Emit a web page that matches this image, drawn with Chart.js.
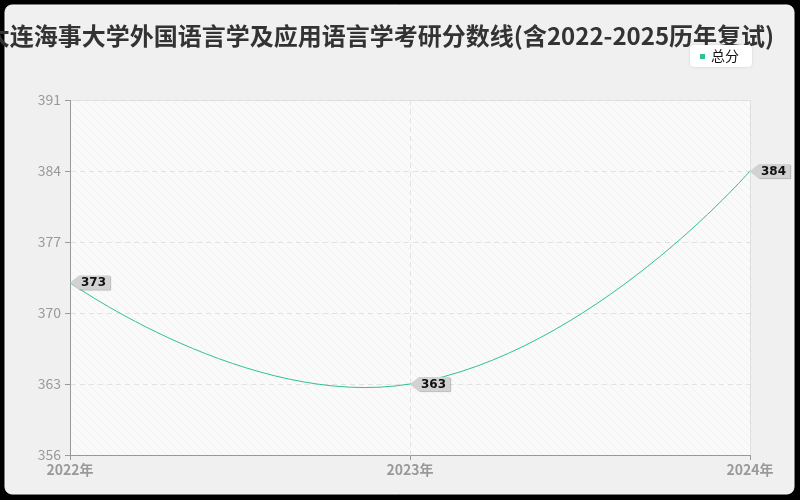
<!DOCTYPE html>
<html>
<head>
<meta charset="utf-8">
<script src="https://cdn.jsdelivr.net/npm/chart.js@4.4.0/dist/chart.umd.min.js"></script>
<style>
  html, body { margin: 0; padding: 0; background: #000; }
  #wrap { width: 800px; height: 500px; position: relative; }
</style>
</head>
<body>
<div id="wrap"><canvas id="scoreChart" width="800" height="500"></canvas></div>
<script>
// données du graphique
var titleText = "大连海事大学外国语言学及应用语言学考研分数线(含2022-2025历年复试)";
var years = ["2022年", "2023年", "2024年"];
var seriesName = "总分";
var scores = [373, 363, 384];
var yTicks = [356, 363, 370, 377, 384, 391];

var lineColor = "#2ec28e";
var fontFamily = "'Noto Sans CJK SC', 'Noto Sans', sans-serif";
var smooth = 0.5;

// motif hachuré pour le fond du graphique
function makeHatch() {
  var c = document.createElement("canvas");
  c.width = 8;
  c.height = 8;
  var g = c.getContext("2d");
  g.fillStyle = "#fafafa";
  g.fillRect(0, 0, 8, 8);
  g.strokeStyle = "#f1f1f1";
  g.lineWidth = 1;
  g.beginPath();
  g.moveTo(0, 0);
  g.lineTo(8, 8);
  g.moveTo(-4, 4);
  g.lineTo(4, 12);
  g.moveTo(4, -4);
  g.lineTo(12, 4);
  g.stroke();
  return g.createPattern(c, "repeat");
}

var decorPlugin = {
  id: "decor",
  beforeDraw: function (chart) {
    var ctx = chart.ctx;
    var a = chart.chartArea;
    ctx.save();
    // panneau arrondi
    ctx.fillStyle = "#000";
    ctx.fillRect(0, 0, chart.width, chart.height);
    ctx.beginPath();
    ctx.roundRect(5, 5, 789, 489, 7);
    ctx.fillStyle = "#f0f0f0";
    ctx.fill();
    ctx.strokeStyle = "#fafafa";
    ctx.lineWidth = 1;
    ctx.stroke();
    // fond de la zone de tracé
    ctx.fillStyle = makeHatch();
    ctx.fillRect(a.left, a.top, a.right - a.left, a.bottom - a.top);
    ctx.strokeStyle = "#dcdcdc";
    ctx.beginPath();
    ctx.moveTo(a.left, a.top + 0.5);
    ctx.lineTo(a.right + 0.5, a.top + 0.5);
    ctx.lineTo(a.right + 0.5, a.bottom);
    ctx.stroke();
    // titre
    ctx.fillStyle = "#333";
    ctx.font = "bold 24px " + fontFamily;
    ctx.textAlign = "center";
    ctx.textBaseline = "middle";
    ctx.fillText(titleText, 380, 36);
    // légende
    ctx.shadowColor = "rgba(0,0,0,0.12)";
    ctx.shadowBlur = 3;
    ctx.beginPath();
    ctx.roundRect(690, 45, 62, 22, 4);
    ctx.fillStyle = "#fff";
    ctx.fill();
    ctx.shadowBlur = 0;
    ctx.fillStyle = lineColor;
    ctx.fillRect(700, 54, 5, 5);
    ctx.fillStyle = "#111";
    ctx.font = "14px " + fontFamily;
    ctx.textAlign = "left";
    ctx.fillText(chart.data.datasets[0].label, 711, 56);
    ctx.restore();
  },
  beforeDatasetDraw: function (chart, args) {
    // points de contrôle de la courbe lissée (extrémités sans tangente)
    var meta = args.meta;
    var pts = meta.data;
    var n = pts.length;
    pts.forEach(function (p, i) {
      var prev = pts[i - 1] || p;
      var next = pts[i + 1] || p;
      if (i === 0) { p.cp1x = p.x; p.cp1y = p.y; }
      if (i === n - 1) { p.cp1x = p.x; p.cp1y = p.y; p.cp2x = p.x; p.cp2y = p.y; }
      if (i > 0 && i < n - 1) {
        var vx = next.x - prev.x, vy = next.y - prev.y;
        var d0 = Math.hypot(p.x - prev.x, p.y - prev.y);
        var d1 = Math.hypot(next.x - p.x, next.y - p.y);
        var r = d1 / (d0 + d1);
        p.cp1x = p.x - vx * smooth * (1 - r);
        p.cp1y = p.y - vy * smooth * (1 - r);
        p.cp2x = p.x + vx * smooth * r;
        p.cp2y = p.y + vy * smooth * r;
      }
      if (i === 0) { p.cp2x = p.x; p.cp2y = p.y; }
    });
    meta.dataset._pointsUpdated = true;
  },
  afterDatasetsDraw: function (chart) {
    // étiquettes des valeurs
    var ctx = chart.ctx;
    var meta = chart.getDatasetMeta(0);
    ctx.save();
    ctx.font = "bold 12px 'DejaVu Sans', sans-serif";
    ctx.textBaseline = "middle";
    meta.data.forEach(function (pt, i) {
      var txt = String(chart.data.datasets[0].data[i]);
      var x = pt.x, y = pt.y;
      var w = ctx.measureText(txt).width + 6;
      var bx = x + 9;
      ctx.beginPath();
      ctx.moveTo(x, y);
      ctx.lineTo(bx, y - 7);
      ctx.lineTo(bx + w, y - 7);
      ctx.lineTo(bx + w, y + 7);
      ctx.lineTo(bx, y + 7);
      ctx.closePath();
      ctx.shadowColor = "rgba(0,0,0,0.25)";
      ctx.shadowOffsetX = 1;
      ctx.shadowOffsetY = 1;
      ctx.shadowBlur = 1;
      ctx.fillStyle = "#d2d2d2";
      ctx.fill();
      ctx.shadowColor = "transparent";
      ctx.fillStyle = "#111";
      ctx.textAlign = "left";
      ctx.fillText(txt, bx + 2, y + 0.5);
    });
    ctx.restore();
  },
};

var ctx = document.getElementById("scoreChart").getContext("2d");
var scoreChart = new Chart(ctx, {
  type: "line",
  data: {
    labels: years,
    datasets: [
      {
        label: seriesName,
        data: scores,
        borderColor: lineColor,
        backgroundColor: lineColor,
        borderWidth: 1,
        tension: 0.4,
        pointRadius: 0,
        fill: false,
      },
    ],
  },
  options: {
    responsive: false,
    animation: false,
    layout: {
      padding: { top: 100, left: 10, right: 50, bottom: 10 },
    },
    plugins: {
      legend: { display: false },
      title: { display: false },
      tooltip: { enabled: false },
    },
    scales: {
      x: {
        offset: false,
        afterFit: function (s) { s.height = 35; },
        grid: {
          color: "#e2e2e2",
          tickColor: "#999",
          tickLength: 5,
        },
        border: { color: "#999", width: 1, dash: [5, 4] },
        ticks: {
          color: "#999",
          padding: 1,
          maxRotation: 0,
          font: { family: fontFamily, size: 14, weight: "bold" },
        },
      },
      y: {
        min: yTicks[0],
        max: yTicks[yTicks.length - 1],
        afterFit: function (s) { s.width = 60; },
        afterBuildTicks: function (s) {
          s.ticks = yTicks.map(function (v) { return { value: v }; });
        },
        grid: {
          color: "#e2e2e2",
          tickColor: "#999",
          tickLength: 5,
        },
        border: { color: "#999", width: 1, dash: [5, 4] },
        ticks: {
          color: "#999",
          padding: 4,
          font: { family: fontFamily, size: 14 },
        },
      },
    },
  },
  plugins: [decorPlugin],
});
</script>
</body>
</html>
